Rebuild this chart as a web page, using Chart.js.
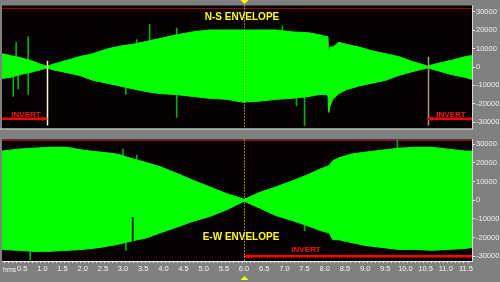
<!DOCTYPE html>
<html lang="en">
<head>
<meta charset="UTF-8">
<title>N-S / E-W Envelope</title>
<script src="https://cdn.jsdelivr.net/npm/chart.js"></script>
<style>
  html, body { margin: 0; padding: 0; background: #808080; }
  #wrap { position: relative; width: 500px; height: 282px; background: #808080; overflow: hidden; }
  canvas { position: absolute; left: 0; }
  #top { top: 0; }
  #bottom { top: 134px; }
</style>
</head>
<body>
<div id="wrap">
  <canvas id="top" width="500" height="134"></canvas>
  <canvas id="bottom" width="500" height="148"></canvas>
</div>
<script>
// N-S envelope, time in hours, amplitude in counts
const nsTime  = [0, 0.2, 0.45, 0.77, 0.95, 1.12, 1.27, 1.61, 1.93, 2.25, 2.6, 2.92, 3.24, 3.59, 3.91, 4.33, 4.72, 5.14, 5.56, 5.96, 6.38, 6.8, 7.19, 7.61, 7.86, 8.03, 8.08, 8.1, 8.13, 8.2, 8.35, 8.53, 8.85, 9.17, 9.51, 9.83, 10.16, 10.55, 10.82, 11.14, 11.49, 11.65];
const nsUpper = [7240, 6200, 5170, 3100, 1550, 500, 1550, 3620, 5690, 7240, 9820, 11370, 12400, 13960, 15500, 17500, 19130, 20160, 20160, 20160, 20160, 20160, 19130, 18600, 17580, 16540, 16540, 3620, 10860, 10860, 13440, 12400, 10860, 8790, 7240, 5690, 3100, 500, 2070, 3620, 5690, 6200];
const nsLower = [-6200, -5690, -4140, -2590, -1550, -500, -1550, -3100, -4650, -7240, -8790, -10340, -11890, -13440, -14480, -15000, -16030, -17060, -17580, -19130, -18610, -17580, -17060, -16030, -15000, -15000, -15500, -24800, -21200, -17580, -14480, -12400, -10340, -8790, -7240, -4650, -2590, -500, -2070, -4140, -5690, -6720];
const nsSpikeTime = [0.28, 0.35, 0.40, 0.65, 3.07, 3.34, 3.66, 4.33, 6.95, 7.30, 7.50];
const nsSpikeLow  = [-16030, 0, -11890, -15000, -15000, 0, 0, -27400, 0, -21200, -32000];
const nsSpikeHigh = [0, 13440, 0, 16540, 0, 15000, 23260, 21200, 22230, 0, 0];
const nsCross  = [1.12, 10.55];
const nsInvert = [[0, 1.12], [10.55, 11.65]];

// E-W envelope
const ewTime  = [0, 0.38, 0.77, 1.19, 1.61, 2.01, 2.43, 2.85, 3.24, 3.59, 3.91, 4.33, 4.72, 5.14, 5.56, 6.0, 6.38, 6.8, 7.19, 7.61, 7.86, 8.11, 8.2, 8.35, 8.67, 9.02, 9.41, 9.83, 10.25, 10.65, 11.07, 11.49, 11.65];
const ewUpper = [26370, 27400, 27920, 28440, 28440, 26880, 25850, 24820, 22230, 20160, 18100, 14480, 10860, 7240, 3620, 500, 4140, 7240, 10340, 13960, 16540, 18610, 21200, 22750, 24820, 25850, 26880, 27920, 28440, 28440, 27400, 26370, 26370];
const ewLower = [-26370, -26880, -27400, -27400, -26880, -26370, -25330, -23780, -21710, -20160, -17580, -14480, -11370, -8790, -5170, -500, -4140, -8270, -10860, -13960, -16030, -17580, -21200, -21200, -22750, -24300, -25330, -26370, -26370, -26880, -26370, -25850, -25330];
const ewSpikeTime = [0.70, 3.00, 3.07, 3.34, 7.50, 9.80];
const ewSpikeLow  = [-32050, 0, -26900, 0, -16500, 0];
const ewSpikeHigh = [0, 27400, 0, 24300, 0, 32570];
const ewGapTime = [3.24];
const ewGapLow  = [-22230];
const ewGapHigh = [-9300];
const ewInvert = [[6.0, 11.65]];

const cursorTime = 6.0;
const yTicks = [30000, 20000, 10000, 0, -10000, -20000, -30000];
const clipLevel = 32400;

Chart.defaults.font.family = 'Liberation Sans';
Chart.defaults.font.size = 8;

function pts(t, v) { return t.map((x, i) => ({ x, y: v[i] })); }
function bars(t, lo, hi) { return t.map((x, i) => ({ x, y: [lo[i], hi[i]] })); }

function arrow(ctx, x1, x2, y, headAt) {
    ctx.strokeStyle = '#ff0000';
    ctx.fillStyle = '#ff0000';
    ctx.lineWidth = 2.5;
    ctx.beginPath(); ctx.moveTo(x1, y); ctx.lineTo(x2, y); ctx.stroke();
    const hx = headAt === 'right' ? x2 : x1;
    const d = headAt === 'right' ? -5 : 5;
    ctx.beginPath();
    ctx.moveTo(hx, y); ctx.lineTo(hx + d, y - 2.5); ctx.lineTo(hx + d, y + 2.5);
    ctx.closePath(); ctx.fill();
}

const envelopeDecor = {
    id: 'envelopeDecor',
    beforeDraw(chart) {
        const { ctx, chartArea: a } = chart;
        ctx.save();
        ctx.fillStyle = '#060000';
        ctx.fillRect(a.left, a.top, a.right - a.left, a.bottom - a.top);
        ctx.restore();
    },
    beforeDatasetsDraw(chart) {
        const { ctx, chartArea: a, scales: { y } } = chart;
        ctx.save();
        ctx.strokeStyle = '#a00000';
        ctx.lineWidth = 1;
        const yc = Math.round(y.getPixelForValue(clipLevel)) + 0.5;
        ctx.beginPath(); ctx.moveTo(a.left, yc); ctx.lineTo(a.right, yc); ctx.stroke();
        ctx.restore();
    },
    afterDatasetsDraw(chart, args, o) {
        const { ctx, chartArea: a, scales: { x, y } } = chart;
        ctx.save();
        // zero-crossing markers
        (o.cross || []).forEach((c, i) => {
            const px = Math.round(x.getPixelForValue(c)) + 0.5;
            ctx.strokeStyle = i === 0 ? '#fff8c8' : '#a89c70';
            ctx.lineWidth = 1.5;
            ctx.beginPath();
            ctx.moveTo(px, y.getPixelForValue(o.crossTop[i]));
            ctx.lineTo(px, y.getPixelForValue(-31850));
            ctx.stroke();
        });
        // invert arrows
        o.invert.forEach((s, i) => {
            arrow(ctx, x.getPixelForValue(s[0]), x.getPixelForValue(s[1]), y.getPixelForValue(o.invertLevel), o.heads[i]);
        });
        ctx.font = 'bold 8px Liberation Sans';
        ctx.fillStyle = '#ff1010';
        ctx.textAlign = 'center';
        ctx.textBaseline = 'middle';
        o.invertLabels.forEach(p => ctx.fillText('INVERT', p[0], p[1]));
        // title
        ctx.font = 'bold 10px Liberation Sans';
        ctx.fillStyle = '#ffff00';
        ctx.fillText(o.title, o.titlePos[0], o.titlePos[1]);
        // cursor
        const cx = Math.round(x.getPixelForValue(cursorTime)) + 0.5;
        ctx.strokeStyle = '#ffff00';
        ctx.lineWidth = 1;
        ctx.setLineDash([1, 2]);
        ctx.beginPath(); ctx.moveTo(cx, a.top); ctx.lineTo(cx, a.bottom); ctx.stroke();
        ctx.setLineDash([]);
        ctx.fillStyle = '#ffff00';
        ctx.beginPath();
        if (o.marker === 'down') {
            ctx.moveTo(cx - 4, 0); ctx.lineTo(cx + 4, 0); ctx.lineTo(cx, 4);
        } else {
            ctx.moveTo(cx - 4, 146); ctx.lineTo(cx + 4, 146); ctx.lineTo(cx, 142);
        }
        ctx.closePath(); ctx.fill();
        if (o.separator) {
            ctx.strokeStyle = '#d8d8d8';
            ctx.beginPath(); ctx.moveTo(0, a.bottom + 0.5); ctx.lineTo(a.right + 1, a.bottom + 0.5); ctx.stroke();
        }
        if (o.hms) {
            ctx.font = '7px Liberation Sans';
            ctx.fillStyle = '#f0f0f0';
            ctx.textAlign = 'left';
            ctx.fillText('hms', 3, a.bottom + 9.5);
        }
        ctx.restore();
    }
};

function makeChart(id, cfg) {
    const datasets = [];
    if (cfg.gap) {
        datasets.push({ type: 'bar', data: cfg.gap, backgroundColor: '#060000', barThickness: 1, grouped: false });
    }
    datasets.push({
        data: cfg.upper, fill: '+1', backgroundColor: '#00ff00', borderColor: '#00ff00',
        borderWidth: 1, pointRadius: 0, tension: 0
    });
    datasets.push({
        data: cfg.lower, fill: false, borderColor: '#00ff00',
        borderWidth: 1, pointRadius: 0, tension: 0
    });
    datasets.push({ type: 'bar', data: cfg.spikes, backgroundColor: '#00b400', barThickness: 1, grouped: false });

    return new Chart(document.getElementById(id), {
        type: 'line',
        data: { datasets },
        plugins: [envelopeDecor],
        options: {
            responsive: false,
            animation: false,
            events: [],
            layout: { padding: cfg.padding },
            plugins: {
                legend: { display: false },
                tooltip: { enabled: false },
                envelopeDecor: cfg.decor
            },
            scales: {
                x: {
                    type: 'linear',
                    min: 0,
                    max: 11.65,
                    offset: false,
                    display: cfg.showX,
                    afterFit: s => { s.height = cfg.showX ? 15 : 0; },
                    border: { display: true, color: '#e8e8e8' },
                    grid: { drawOnChartArea: false, tickLength: 2, tickColor: '#f0f0f0' },
                    ticks: {
                        stepSize: 0.1,
                        autoSkip: false,
                        maxRotation: 0,
                        minRotation: 0,
                        padding: 1,
                        color: '#f4f4f4',
                        font: { size: 7.5 },
                        callback: v => (Math.abs(v * 2 - Math.round(v * 2)) < 1e-6 && v > 0.01 && v < 11.6) ? v.toFixed(1) : ''
                    }
                },
                y: {
                    position: 'right',
                    min: -cfg.range,
                    max: cfg.range,
                    afterFit: s => { s.width = 28; },
                    afterBuildTicks: s => { s.ticks = yTicks.map(v => ({ value: v })); },
                    border: { display: true, color: '#d8d8d8' },
                    grid: { drawOnChartArea: false, tickLength: 3, tickColor: '#e8e8e8' },
                    ticks: {
                        padding: 1,
                        color: '#eeeeee',
                        font: { size: 7.5 },
                        callback: v => String(v)
                    }
                }
            }
        }
    });
}

makeChart('top', {
    upper: pts(nsTime, nsUpper),
    lower: pts(nsTime, nsLower),
    spikes: bars(nsSpikeTime, nsSpikeLow, nsSpikeHigh),
    range: 33500,
    showX: false,
    padding: { left: 2, top: 4, right: 0, bottom: 1 },
    decor: {
        title: 'N-S ENVELOPE', titlePos: [242, 17],
        cross: nsCross, crossTop: [3370, 5440],
        invert: nsInvert, heads: ['right', 'left'], invertLevel: -28200,
        invertLabels: [[26, 115], [451, 115]],
        marker: 'down', separator: true
    }
});

makeChart('bottom', {
    upper: pts(ewTime, ewUpper),
    lower: pts(ewTime, ewLower),
    spikes: bars(ewSpikeTime, ewSpikeLow, ewSpikeHigh),
    gap: bars(ewGapTime, ewGapLow, ewGapHigh),
    range: 32600,
    showX: true,
    padding: { left: 2, top: 1, right: 0, bottom: 6 },
    decor: {
        title: 'E-W ENVELOPE', titlePos: [241, 103],
        invert: ewInvert, heads: ['left'], invertLevel: -30000,
        invertLabels: [[306, 115.5]],
        marker: 'up', hms: true
    }
});
</script>
</body>
</html>
